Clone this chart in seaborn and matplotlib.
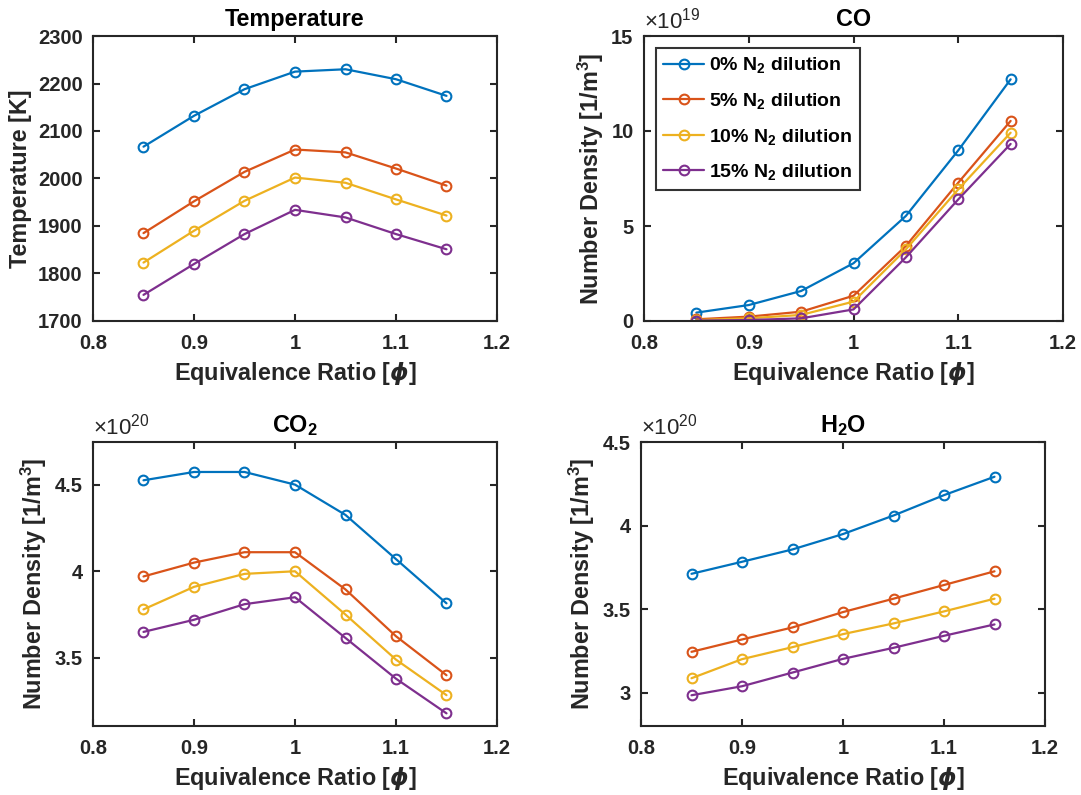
import matplotlib
matplotlib.use("Agg")
import matplotlib.pyplot as plt
import seaborn as sns
import pandas as pd
from matplotlib.ticker import FuncFormatter, MultipleLocator

# ---------------- data ----------------
phi = [0.85, 0.90, 0.95, 1.00, 1.05, 1.10, 1.15]
series_labels = ["0% N$_2$ dilution", "5% N$_2$ dilution",
                 "10% N$_2$ dilution", "15% N$_2$ dilution"]
colors = ["#0072BD", "#D95319", "#EDB120", "#7E2F8E"]

temp_0 = [2067, 2132, 2188, 2225, 2230, 2209, 2174]
temp_5 = [1885, 1952, 2014, 2061, 2055, 2021, 1985]
temp_10 = [1823, 1890, 1953, 2002, 1991, 1956, 1922]
temp_15 = [1755, 1820, 1883, 1934, 1918, 1883, 1851]

co_0 = [0.44e19, 0.84e19, 1.58e19, 3.04e19, 5.53e19, 8.98e19, 12.72e19]
co_5 = [0.09e19, 0.23e19, 0.49e19, 1.33e19, 3.95e19, 7.28e19, 10.53e19]
co_10 = [0.05e19, 0.14e19, 0.32e19, 1.02e19, 3.77e19, 6.93e19, 9.91e19]
co_15 = [0.02e19, 0.05e19, 0.14e19, 0.61e19, 3.35e19, 6.40e19, 9.32e19]

co2_0 = [4.525e20, 4.573e20, 4.573e20, 4.500e20, 4.325e20, 4.070e20, 3.815e20]
co2_5 = [3.970e20, 4.050e20, 4.110e20, 4.110e20, 3.895e20, 3.625e20, 3.400e20]
co2_10 = [3.780e20, 3.910e20, 3.985e20, 4.000e20, 3.750e20, 3.490e20, 3.285e20]
co2_15 = [3.650e20, 3.720e20, 3.810e20, 3.850e20, 3.615e20, 3.380e20, 3.180e20]

h2o_0 = [3.711e20, 3.783e20, 3.857e20, 3.949e20, 4.060e20, 4.182e20, 4.292e20]
h2o_5 = [3.244e20, 3.318e20, 3.390e20, 3.482e20, 3.562e20, 3.644e20, 3.726e20]
h2o_10 = [3.086e20, 3.200e20, 3.272e20, 3.350e20, 3.414e20, 3.486e20, 3.562e20]
h2o_15 = [2.984e20, 3.038e20, 3.120e20, 3.202e20, 3.268e20, 3.340e20, 3.408e20]

panels = [
    dict(title="Temperature", ylabel="Temperature [K]",
         series=[temp_0, temp_5, temp_10, temp_15],
         ylim=(1700, 2300), ystep=100, exp=None,
         rect=(93, 36, 404, 285)),
    dict(title="CO", ylabel="Number Density [1/m$^3$]",
         series=[co_0, co_5, co_10, co_15],
         ylim=(0, 15e19), ystep=5e19, exp=19,
         rect=(644, 36, 419, 285)),
    dict(title="CO$_2$", ylabel="Number Density [1/m$^3$]",
         series=[co2_0, co2_5, co2_10, co2_15],
         ylim=(3.107e20, 4.746e20), ystep=0.5e20, exp=20,
         rect=(93, 442, 404, 284)),
    dict(title="H$_2$O", ylabel="Number Density [1/m$^3$]",
         series=[h2o_0, h2o_5, h2o_10, h2o_15],
         ylim=(2.8e20, 4.5e20), ystep=0.5e20, exp=20,
         rect=(641, 442, 404, 284)),
]

# ---------------- style ----------------
sns.set_theme(style="ticks")
dark = "#262626"
plt.rcParams.update({
    "font.family": ["Liberation Sans", "DejaVu Sans"],
    "font.weight": "bold",
    "axes.labelweight": "bold",
    "axes.titleweight": "bold",
    "mathtext.default": "regular",
    "axes.linewidth": 1.5,
    "axes.edgecolor": dark,
    "xtick.color": dark,
    "ytick.color": dark,
    "axes.labelcolor": dark,
    "text.color": "black",
})

W, H = 1081, 795
fig = plt.figure(figsize=(W / 100, H / 100), dpi=100)

xfmt = FuncFormatter(lambda v, p: f"{v:g}")

for pn in panels:
    x0, y0, w, h = pn["rect"]
    ax = fig.add_axes([x0 / W, 1 - (y0 + h) / H, w / W, h / H])
    for vals, lab, col in zip(pn["series"], series_labels, colors):
        df = pd.DataFrame({"phi": phi, "val": vals})
        kw = dict(label=lab) if pn["title"] == "CO" else {}
        sns.lineplot(data=df, x="phi", y="val", ax=ax, color=col,
                     linewidth=1.6, marker="o", markersize=7,
                     markerfacecolor="none", markeredgecolor=col,
                     markeredgewidth=1.5, **kw)
    ax.set_xlim(0.8, 1.2)
    ax.xaxis.set_major_locator(MultipleLocator(0.1))
    ax.xaxis.set_major_formatter(xfmt)
    ax.set_ylim(*pn["ylim"])
    ax.yaxis.set_major_locator(MultipleLocator(pn["ystep"]))
    if pn["exp"] is not None:
        e = pn["exp"]
        ax.yaxis.set_major_formatter(
            FuncFormatter(lambda v, p, e=e: f"{v / 10**e:g}"))
        ax.text(0.0, 1.008, r"$\times 10^{%d}$" % e, transform=ax.transAxes,
                ha="left", va="bottom", fontsize=16, fontweight="normal",
                color=dark)
    else:
        ax.yaxis.set_major_formatter(xfmt)
    ax.tick_params(direction="in", top=True, right=True, length=5,
                   width=1.5, labelsize=14.5)
    ax.tick_params(axis="x", pad=9.5)
    ax.tick_params(axis="y", pad=7.5)
    for s in ax.spines.values():
        s.set_visible(True)
        s.set_linewidth(1.5)
        s.set_color(dark)
    ax.set_xlabel(r"Equivalence Ratio [$\mathit{\phi}$]", fontsize=16.8,
                  labelpad=5)
    ax.set_ylabel(pn["ylabel"], fontsize=16.8, labelpad=4)
    ax.set_title(pn["title"], fontsize=16.8, pad=7)
    if pn["title"] == "CO":
        leg = ax.legend(loc="upper left", fontsize=14, frameon=True,
                        fancybox=False, edgecolor="black",
                        borderaxespad=0.6, labelspacing=0.8,
                        handlelength=2.1, handletextpad=0.25,
                        borderpad=0.4)
        leg.get_frame().set_linewidth(1.5)
        for t in leg.get_texts():
            t.set_color("black")

fig.savefig("out.png", dpi=100)
